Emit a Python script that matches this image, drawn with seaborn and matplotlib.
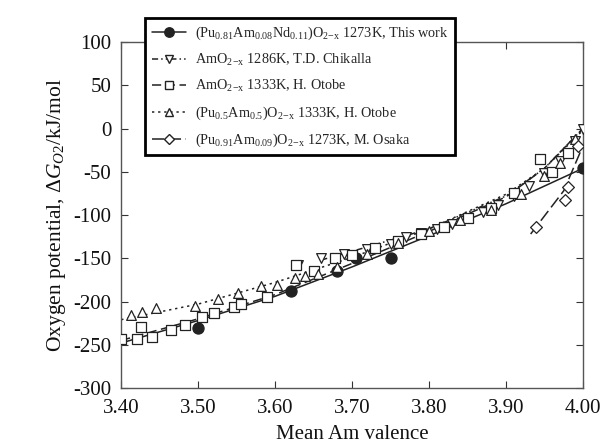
import matplotlib
matplotlib.use("Agg")
import matplotlib.pyplot as plt
from matplotlib.lines import Line2D
import seaborn as sns
import pandas as pd

# ---------------- data ----------------
# This work (Pu0.81Am0.08Nd0.11)O2-x 1273K
tw_x = [3.50, 3.62, 3.68, 3.705, 3.75, 4.00]
tw_y = [-231, -188, -165, -150, -150, -46]
tw_line_x = [3.40, 3.50, 3.60, 3.70, 3.80, 3.90, 4.00]
tw_line_y = [-248, -222, -194, -160, -124, -87, -46]

# AmO2-x 1286K, T.D. Chikalla
ch_x = [3.63, 3.66, 3.69, 3.72, 3.75, 3.77, 3.79, 3.81, 3.83, 3.85, 3.87, 3.89, 3.91, 3.93, 3.95, 3.97, 3.99, 4.00]
ch_y = [-158, -150, -145, -139, -133, -126, -121, -116, -110, -104, -96, -88, -78, -66, -52, -37, -15, 0]
ch_line_x = [3.66, 3.70, 3.80, 3.90, 3.95, 4.00]
ch_line_y = [-152, -142, -116, -78, -46, 0]

# AmO2-x 1333K, H. Otobe
ob_x = [3.40, 3.42, 3.426, 3.44, 3.465, 3.483, 3.505, 3.52, 3.546, 3.556, 3.59, 3.627, 3.65, 3.678, 3.70,
        3.73, 3.76, 3.79, 3.82, 3.85, 3.88, 3.91, 3.944, 3.96, 3.98]
ob_y = [-243, -243, -229, -241, -233, -227, -218, -213, -206, -203, -195, -158, -165, -150, -146,
        -138, -130, -122, -114, -104, -92, -74, -35, -50, -28]
ob_line_x = [3.40, 3.50, 3.60, 3.70, 3.80, 3.90, 3.95, 4.00]
ob_line_y = [-245, -220, -192, -156, -119, -79, -46, 0]

# (Pu0.5Am0.5)O2-x 1333K, H. Otobe
op_x = [3.413, 3.427, 3.445, 3.496, 3.526, 3.552, 3.582, 3.603, 3.626, 3.639, 3.656, 3.68, 3.72,
        3.76, 3.80, 3.84, 3.88, 3.92, 3.95, 3.97, 3.99]
op_y = [-216, -212, -208, -205, -197, -190, -182, -181, -173, -170, -168, -160, -145,
        -132, -118, -106, -94, -76, -55, -40, -12]
op_line_x = [3.40, 3.50, 3.60, 3.70, 3.80, 3.90, 3.95, 4.00]
op_line_y = [-221, -203, -178, -149, -116, -76, -46, -2]

# (Pu0.91Am0.09)O2-x 1273K, M. Osaka
os_x = [3.939, 3.977, 3.98, 3.994]
os_y = [-114, -83, -68, -20]
os_line_x = [3.932, 3.975, 4.00]
os_line_y = [-122, -72, -20]

x_ticks = [3.40, 3.50, 3.60, 3.70, 3.80, 3.90, 4.00]
y_ticks = [100, 50, 0, -50, -100, -150, -200, -250, -300]

labels = [
    r'(Pu$_{\mathrm{0.81}}$Am$_{\mathrm{0.08}}$Nd$_{\mathrm{0.11}}$)O$_{\mathrm{2\!-\!x}}$ 1273K, This work',
    r'AmO$_{\mathrm{2\!-\!x}}$ 1286K, T.D. Chikalla',
    r'AmO$_{\mathrm{2\!-\!x}}$ 1333K, H. Otobe',
    r'(Pu$_{\mathrm{0.5}}$Am$_{\mathrm{0.5}}$)O$_{\mathrm{2\!-\!x}}$ 1333K, H. Otobe',
    r'(Pu$_{\mathrm{0.91}}$Am$_{\mathrm{0.09}}$)O$_{\mathrm{2\!-\!x}}$ 1273K, M. Osaka',
]

# ---------------- style ----------------
sns.set_theme(style="white")
plt.rcParams['font.family'] = ['Liberation Serif', 'DejaVu Serif']
plt.rcParams['mathtext.fontset'] = 'custom'
plt.rcParams['mathtext.rm'] = 'Liberation Serif'
plt.rcParams['mathtext.it'] = 'Liberation Serif:italic'
plt.rcParams['mathtext.bf'] = 'Liberation Serif:bold'

fig = plt.figure(figsize=(6.06, 4.47), dpi=100)
ax = fig.add_axes([0.200, 0.132, 0.762, 0.774])

lc = '#222222'
styles = {
    'tw': dict(ls='-', marker='o', mfc=lc, ms=8),
    'ch': dict(ls=(0, (4, 2, 1, 2, 1, 2)), marker='v', mfc='white', ms=7),
    'ob': dict(ls=(0, (6, 3)), marker='s', mfc='white', ms=7),
    'op': dict(ls=(0, (1.5, 2.5)), marker='^', mfc='white', ms=7),
    'os': dict(ls=(0, (8, 3)), marker='D', mfc='white', ms=6),
}

series = [
    ('tw', tw_x, tw_y, tw_line_x, tw_line_y),
    ('ch', ch_x, ch_y, ch_line_x, ch_line_y),
    ('ob', ob_x, ob_y, ob_line_x, ob_line_y),
    ('op', op_x, op_y, op_line_x, op_line_y),
    ('os', os_x, os_y, os_line_x, os_line_y),
]

for key, px, py, lx, ly in series:
    st = styles[key]
    dl = pd.DataFrame({'x': lx, 'y': ly})
    sns.lineplot(data=dl, x='x', y='y', ax=ax, color=lc, linewidth=1.1,
                 linestyle=st['ls'], sort=False, estimator=None, legend=False)
    dp = pd.DataFrame({'x': px, 'y': py})
    sns.scatterplot(data=dp, x='x', y='y', ax=ax, marker=st['marker'],
                    facecolor=st['mfc'], edgecolor=lc, linewidth=0.9,
                    s=st['ms'] ** 2, legend=False, zorder=3)

ax.set_xlim(3.40, 4.00)
ax.set_ylim(-300, 100)
ax.set_xticks(x_ticks)
ax.set_xticklabels([f'{v:.2f}' for v in x_ticks])
ax.set_yticks(y_ticks)
ax.set_yticklabels([f'{v:d}' for v in y_ticks])
ax.tick_params(direction='in', length=5, width=0.8, colors='#333333',
               labelsize=15, labelcolor='#111111', top=True, right=True,
               bottom=True, left=True)
ax.tick_params(axis='x', pad=8)
ax.tick_params(axis='y', pad=7)
for s in ax.spines.values():
    s.set_color('#555555')
    s.set_linewidth(1.0)

ax.set_xlabel('Mean Am valence', fontsize=15, color='#111111', labelpad=5)
ax.set_ylabel(r'Oxygen potential, $\mathit{\Delta G_{O2}}$/kJ/mol', fontsize=15.5,
              color='#111111', labelpad=4)

handles = []
for key, *_ in series:
    st = styles[key]
    handles.append(Line2D([0], [0], color=lc, linewidth=1.1, linestyle=st['ls'],
                          marker=st['marker'], markerfacecolor=st['mfc'],
                          markeredgecolor=lc, markersize=st['ms'] * 0.85))
leg = fig.legend(handles, labels, loc='upper left', bbox_to_anchor=(0.228, 0.975),
                 fontsize=10.3, frameon=True, fancybox=False, shadow=False,
                 edgecolor='black', framealpha=1, handlelength=2.4,
                 borderpad=0.45, labelspacing=0.7, handletextpad=0.6)
leg.get_frame().set_linewidth(2.0)
leg.set_zorder(10)

fig.savefig('out.png', dpi=100)
